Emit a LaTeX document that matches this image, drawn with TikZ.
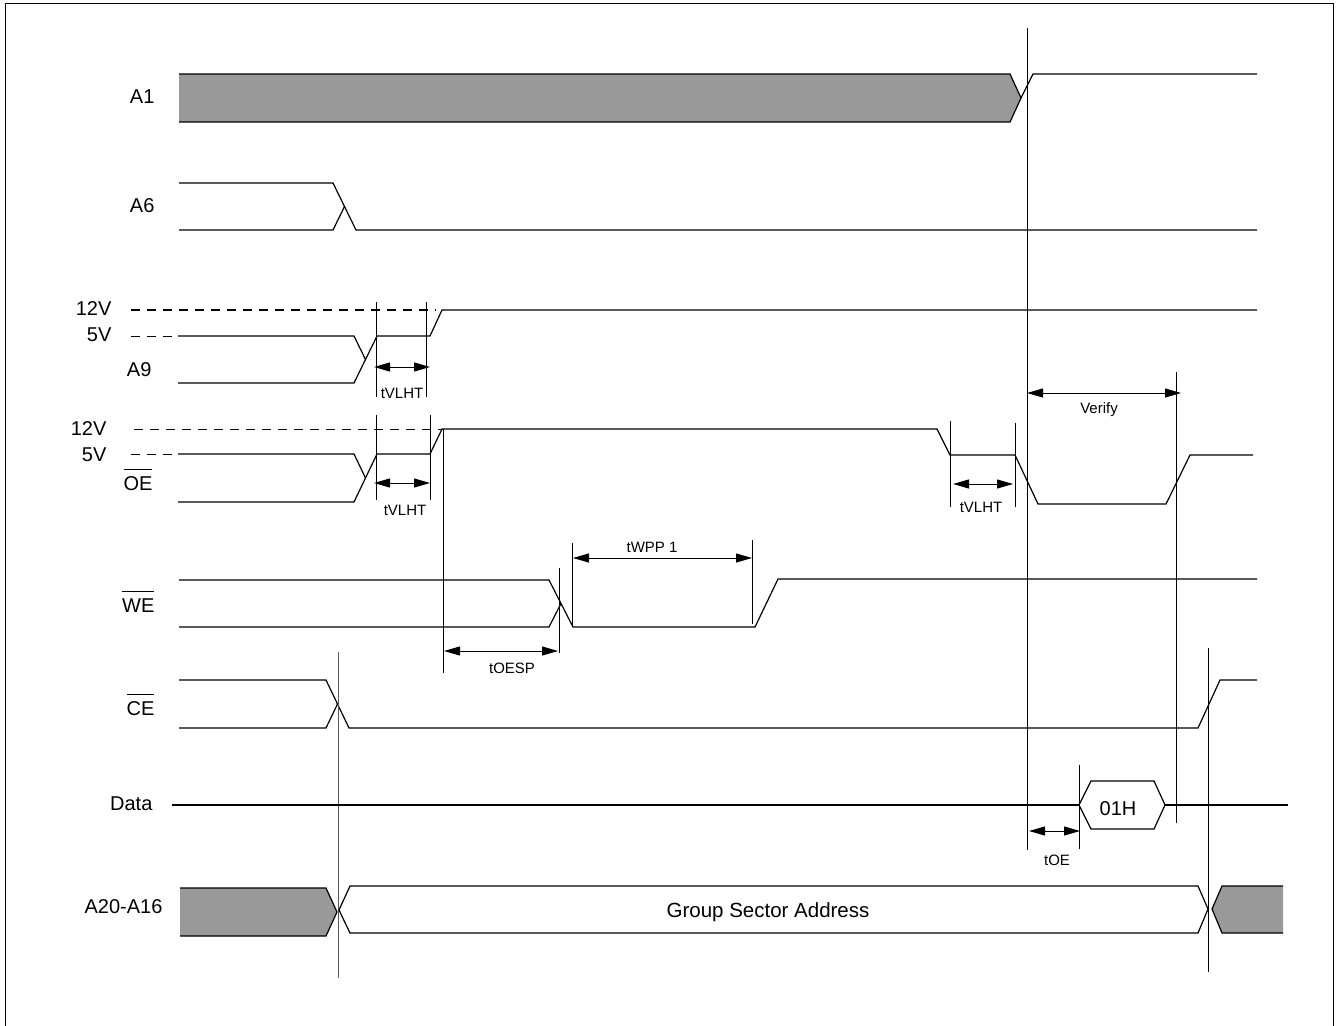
\documentclass[tikz,border=0pt]{standalone}
\usepackage{fontspec}
\setmainfont{Liberation Sans}
\usetikzlibrary{arrows.meta}
\definecolor{busgray}{RGB}{153,153,153}
\newcommand{\barsig}[1]{$\overline{\mbox{\raisebox{0pt}[\dimexpr\height+2pt\relax]{#1}}}$}

\begin{document}
\begin{tikzpicture}[x=0.5pt, y=-0.5pt, line width=0.6pt,
    sig/.style={font=\fontsize{10}{12}\selectfont, anchor=base east, inner sep=0pt},
    tlab/.style={font=\fontsize{7.5}{9}\selectfont, anchor=base, inner sep=0pt},
    dimarrow/.style={{Triangle[length=8pt,width=4.5pt]}-{Triangle[length=8pt,width=4.5pt]}, line width=0.5pt},
    guide/.style={line width=0.5pt},
    lvl/.style={dash pattern=on 4.5pt off 3.5pt, line width=0.5pt}]
    \useasboundingbox (0,0) rectangle (1336,1026);
    \draw[line width=0.5pt] (5,4) rectangle (1333,1040);

    % A1
    \node[sig] (lA1) at (155,104) {A1};
    \fill[busgray] (179,74) -- (1010,74) -- (1021,98) -- (1010,122) -- (179,122) -- cycle;
    \draw (179,74) -- (1010,74) -- (1021,98) -- (1010,122) -- (179,122);
    \draw (1021,98) -- (1033,74) -- (1257,74);

    % A6
    \node[sig] (lA6) at (155,213) {A6};
    \draw (179,183) -- (333,183) -- (356,230) -- (1257,230);
    \draw (179,230) -- (333,230) -- (344.5,206.5);

    % A9
    \node[sig] (vA9h) at (112,315) {12V};
    \node[sig] (vA9l) at (112,342) {5V};
    \node[sig] (lA9) at (152,376) {A9};
    \draw[lvl] (131,310) -- (436,310);
    \draw[lvl] (131,336) -- (172,336);
    \draw (178,336) -- (354,336) -- (365.5,359.5);
    \draw (178,383) -- (354,383) -- (377,336) -- (430,336) -- (442,310) -- (1257,310);
    \foreach \x in {376,426} {
        \draw[guide] (\x,302) -- (\x,397);
    }
    \coordinate (a9s) at (374,367);
    \coordinate (a9e) at (430,367);
    \draw[dimarrow] (a9s) -- (a9e);
    \node[tlab] (tA9) at (402,398) {tVLHT};

    % OE
    \node[sig] (vOEh) at (107,435) {12V};
    \node[sig] (vOEl) at (107,461) {5V};
    \node[sig] (lOE) at (153,490) {\barsig{OE}};
    \draw[lvl] (134,429) -- (443,429);
    \draw[lvl] (131,454) -- (172,454);
    \draw (178,454) -- (354,454) -- (365.5,478);
    \draw (178,502) -- (354,502) -- (377,454) -- (430,454) -- (442,429) -- (937,429)
        -- (950,455) -- (1015,455) -- (1038,504) -- (1166,504) -- (1190,455) -- (1253,455);
    \foreach \x in {376,430} {
        \draw[guide] (\x,415) -- (\x,500);
    }
    \draw[guide] (443,429) -- (443,673);
    \coordinate (oes) at (374,483);
    \coordinate (oee) at (430,483);
    \draw[dimarrow] (oes) -- (oee);
    \node[tlab] (tOE1) at (405,515) {tVLHT};
    \draw[guide] (950,421) -- (950,507);
    \draw[guide] (1015,423) -- (1015,507);
    \coordinate (oer) at (953,484);
    \coordinate (oef) at (1013,484);
    \draw[dimarrow] (oer) -- (oef);
    \node[tlab] (tOE2) at (981,512) {tVLHT};

    % Verify window
    \draw[guide] (1027,28) -- (1027,850);
    \draw[guide] (1176,372) -- (1176,823);
    \coordinate (vfs) at (1027,393);
    \coordinate (vfe) at (1181,393);
    \draw[dimarrow] (vfs) -- (vfe);
    \node[tlab] (tVf) at (1099,413) {Verify};

    % WE
    \node[sig] (lWE) at (155,612) {\barsig{WE}};
    \draw (179,580) -- (549,580) -- (573,627) -- (755,627) -- (778,579) -- (1257,579);
    \draw (179,627) -- (549,627) -- (561,603.5);
    \draw[guide] (559,568) -- (559,653);
    \draw[guide] (572,543) -- (572,627);
    \draw[guide] (752,540) -- (752,624);
    \coordinate (esp1) at (444,651);
    \coordinate (esp2) at (558,651);
    \draw[dimarrow] (esp1) -- (esp2);
    \node[tlab] (tESP) at (512,673) {tOESP};
    \coordinate (wpp1) at (573,558);
    \coordinate (wpp2) at (752,558);
    \draw[dimarrow] (wpp1) -- (wpp2);
    \node[tlab] (tWPP) at (652,552) {tWPP 1};

    % CE
    \node[sig] (lCE) at (155,715) {\barsig{CE}};
    \draw (179,680) -- (326,680) -- (349,728) -- (1198,728) -- (1220,680) -- (1257,680);
    \draw (179,728) -- (326,728) -- (337.5,704);
    \draw[guide, black!65] (338,652) -- (338,978);
    \draw[guide] (1208,648) -- (1208,972);

    % Data
    \node[sig] (lData) at (153,810) {Data};
    \draw (172,805) -- (1079,805);
    \draw (1079,805) -- (1091,781) -- (1154,781) -- (1165,805) -- (1154,829) -- (1091,829) -- cycle;
    \draw (1165,805) -- (1288,805);
    \node[font=\fontsize{10}{12}\selectfont, anchor=base, inner sep=0pt] (d01) at (1118,815) {01H};
    \draw[guide] (1079,765) -- (1079,849);
    \coordinate (toe1) at (1029,831);
    \coordinate (toe2) at (1080,831);
    \draw[dimarrow] (toe1) -- (toe2);
    \node[tlab] (tOE) at (1057,865) {tOE};

    % A20-A16
    \node[sig] (lAddr) at (163,913) {A20-A16};
    \fill[busgray] (180,888) -- (326,888) -- (337,912) -- (326,936) -- (180,936) -- cycle;
    \draw (180,888) -- (326,888) -- (337,912) -- (326,936) -- (180,936);
    \draw (339,910) -- (350,886) -- (1198,886) -- (1208,909) -- (1198,933) -- (350,933) -- cycle;
    \fill[busgray] (1283,886) -- (1222,886) -- (1212,909) -- (1222,933) -- (1283,933) -- cycle;
    \draw (1283,886) -- (1222,886) -- (1212,909) -- (1222,933) -- (1283,933);
    \node[font=\fontsize{10.25}{12}\selectfont, anchor=base, inner sep=0pt] (gsa) at (768,917) {Group Sector Address};
\end{tikzpicture}
\end{document}
